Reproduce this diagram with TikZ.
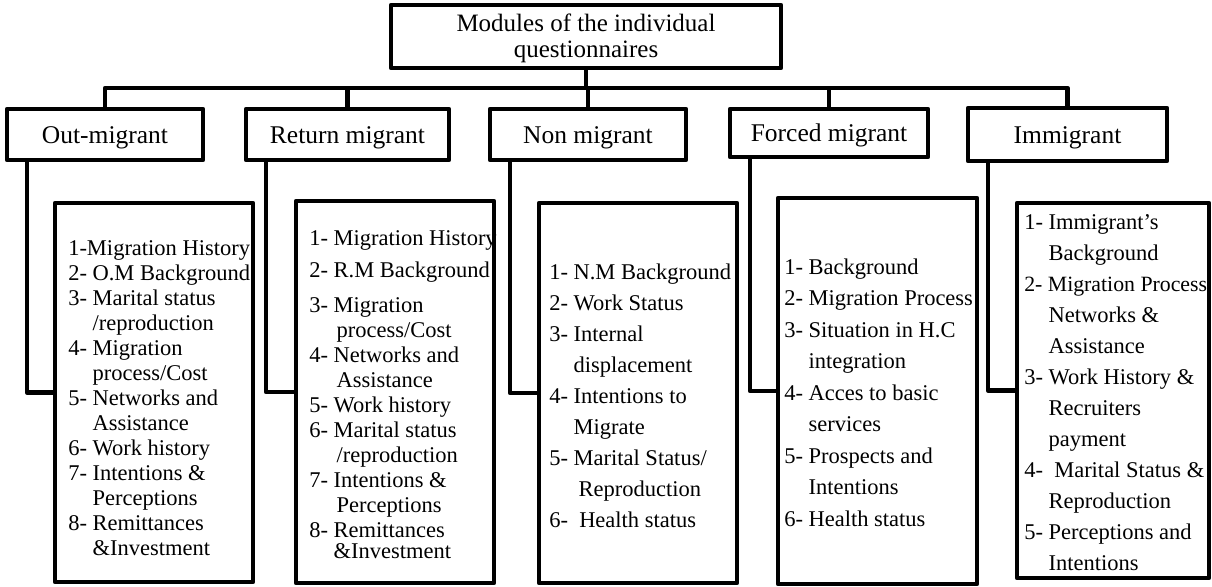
\documentclass[tikz,border=0pt]{standalone}
\usepackage{fontspec}
\setmainfont{Liberation Serif}
\begin{document}
\begin{tikzpicture}[x=1pt,y=-1pt, line width=4.5pt, line join=round,
  box/.style={draw, rectangle, inner sep=0pt, outer sep=0pt},
  lab/.style={font=\fontsize{25.5}{28}\selectfont, text height=17pt, text depth=0pt},
  lst/.style={anchor=north west, inner sep=0pt, align=left, font=\fontsize{22.5}{25}\selectfont},
  lstw/.style={anchor=north west, inner sep=0pt, align=left, font=\fontsize{22.5}{31}\selectfont}]
\useasboundingbox (0,0) rectangle (1212,586);

% top box
\node[box, minimum width=390pt, minimum height=63pt,
      font=\fontsize{25}{26}\selectfont] (top) at (586,36.5)
      {\raisebox{-3.3pt}[\height][\depth]{\begin{tabular}{@{}c@{}}Modules of the individual\\questionnaires\end{tabular}}};

% level-2 boxes
\node[box, lab, minimum width=196pt, minimum height=51pt] (out) at (105,134.5) {Out-migrant};
\node[box, lab, minimum width=203pt, minimum height=51pt] (ret) at (347.5,134.5) {Return migrant};
\node[box, lab, minimum width=196pt, minimum height=51pt] (non) at (588,134.5) {Non migrant};
\node[box, lab, minimum width=198pt, minimum height=48pt] (frc) at (829,133) {Forced migrant};
\node[box, lab, minimum width=199pt, minimum height=53pt] (imm) at (1067.5,134.5) {Immigrant};

% list boxes
\node[box, minimum width=198pt, minimum height=379pt] (outlist) at (154,392.5) {};
\node[box, minimum width=198pt, minimum height=382pt] (retlist) at (395,392) {};
\node[box, minimum width=198pt, minimum height=380pt] (nonlist) at (638,393) {};
\node[box, minimum width=199pt, minimum height=386pt] (frclist) at (877.5,391) {};
\node[box, minimum width=192pt, minimum height=375pt] (immlist) at (1113,390.5) {};

% list texts
\node[lst] (outtxt) at (66,235.5) {\strut 1-Migration History\\
2- O.M Background\\
3- Marital status\\
\phantom{3- }/reproduction\\
4- Migration\\
\phantom{4- }process/Cost\\
5- Networks and\\
\phantom{5- }Assistance\\
6- Work history\\
7- Intentions \&\\
\phantom{7- }Perceptions\\
8- Remittances\\
\phantom{8- }\&Investment};

\node[lst] (rettxt) at (307,225.5) {\strut 1- Migration History\\[7pt]
2- R.M Background\\[10pt]
3- Migration\\
\phantom{3- }\hspace{3pt}process/Cost\\
4- Networks and\\
\phantom{4- }\hspace{3pt}Assistance\\
5- Work history\\
6- Marital status\\
\phantom{6- }\hspace{3pt}/reproduction\\
7- Intentions \&\\
\phantom{7- }\hspace{3pt}Perceptions\\
8- Remittances\\[-4pt]
\phantom{8- }\&Investment};

\node[lstw] (nontxt) at (547,255.3) {\strut 1- N.M Background\\
2- Work Status\\
3- Internal\\
\phantom{3- }displacement\\
4- Intentions to\\
\phantom{4- }Migrate\\
5- Marital Status/\\
\phantom{5- }\hspace{5pt}Reproduction\\
6-\ \ Health status};

\node[lstw, font=\fontsize{22.5}{31.5}\selectfont] (frctxt) at (782,250) {\strut 1- Background\\
2- Migration Process\\
3- Situation in H.C\\
\phantom{3- }integration\\
4- Acces to basic\\
\phantom{4- }services\\
5- Prospects and\\
\phantom{5- }Intentions\\
6- Health status};

\node[lstw] (immtxt) at (1022,205.3) {\strut 1- Immigrant’s\\
\phantom{1- }Background\\
{\fontsize{21.8}{31}\selectfont 2- Migration Process}\\
\phantom{2- }Networks \&\\
\phantom{2- }Assistance\\
3- Work History \&\\
\phantom{3- }Recruiters\\
\phantom{3- }payment\\
4-\ \ Marital Status \&\\
\phantom{4- }Reproduction\\
5- Perceptions and\\
\phantom{5- }Intentions};

% connectors
\coordinate (bus) at (0,88);
\draw (top.south) -- (top.south |- bus);
\draw (out.north) |- (imm.north |- bus) -- (imm.north);
\draw (ret.north) -- (ret.north |- bus);
\draw (non.north) -- (non.north |- bus);
\draw (frc.north) -- (frc.north |- bus);

\draw ([xshift=20pt]out.south west) |- (outlist.west);
\draw ([xshift=20pt]ret.south west) |- (retlist.west);
\draw ([xshift=20pt]non.south west) |- (nonlist.west);
\draw ([xshift=20pt]frc.south west) |- (frclist.west);
\draw ([xshift=20pt]imm.south west) |- (immlist.west);
\end{tikzpicture}
\end{document}
